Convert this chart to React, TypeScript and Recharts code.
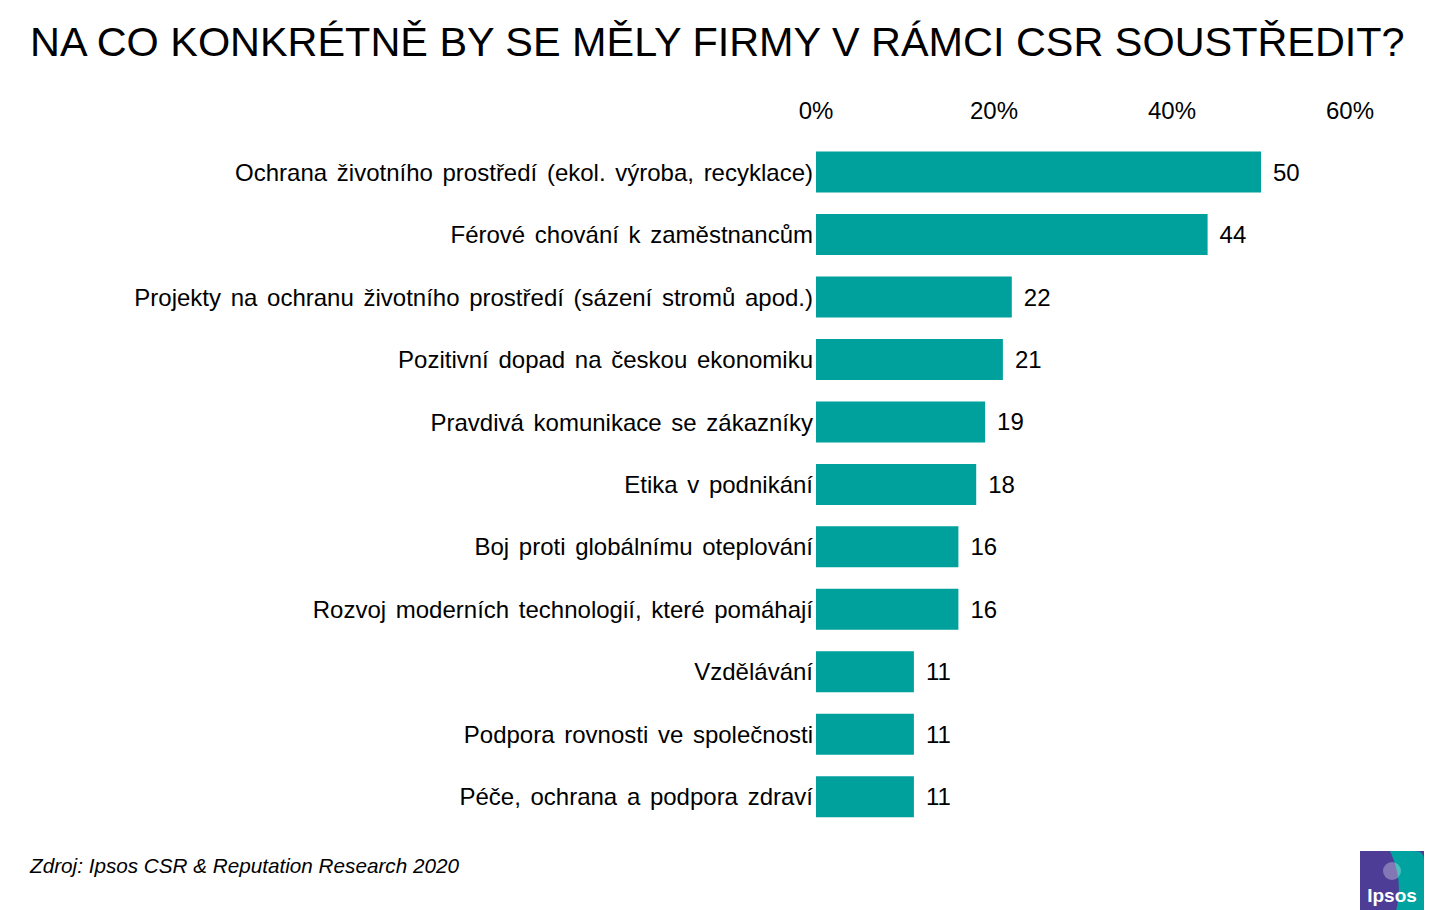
import { BarChart, Bar, XAxis, YAxis, LabelList } from 'recharts';

const categories = [
  'Ochrana životního prostředí (ekol. výroba, recyklace)',
  'Férové chování k zaměstnancům',
  'Projekty na ochranu životního prostředí (sázení stromů apod.)',
  'Pozitivní dopad na českou ekonomiku',
  'Pravdivá komunikace se zákazníky',
  'Etika v podnikání',
  'Boj proti globálnímu oteplování',
  'Rozvoj moderních technologií, které pomáhají',
  'Vzdělávání',
  'Podpora rovnosti ve společnosti',
  'Péče, ochrana a podpora zdraví',
];

const values = [50, 44, 22, 21, 19, 18, 16, 16, 11, 11, 11];

const xTicks = [0, 20, 40, 60];

const font = '"Liberation Sans", Arial, sans-serif';

function IpsosLogo() {
  return (
    <svg width={64} height={60} viewBox="0 0 64 60">
      <rect x={0} y={0} width={64} height={60} fill="#4E3D97" />
      <path d="M30 0 L56 0 Q64 0 64 10 L64 60 L36 60 Q44 30 30 0 Z" fill="#00A3A0" />
      <circle cx={32} cy={20} r={9} fill="#ffffff" opacity={0.3} />
      <text x={32} y={51} textAnchor="middle" fill="#ffffff" fontSize={19} fontWeight="bold" fontFamily={font}>
        Ipsos
      </text>
    </svg>
  );
}

export default function App() {
  // Prepare data for recharts
  const chartData = categories.map((name, i) => ({ name, value: values[i] }));

  return (
    <div style={{ position: 'absolute', left: 0, top: 0, width: 1442, height: 910, background: '#fff', fontFamily: font }}>
      <div style={{ position: 'absolute', left: 30, top: 17, fontSize: 41.4, lineHeight: '50px', color: '#000', whiteSpace: 'nowrap' }}>
        NA CO KONKRÉTNĚ BY SE MĚLY FIRMY V RÁMCI CSR SOUSTŘEDIT?
      </div>

      <div style={{ position: 'absolute', left: 0, top: 0 }}>
        <BarChart
          width={1442}
          height={910}
          data={chartData}
          layout="vertical"
          barCategoryGap="17%"
          margin={{ top: 91, right: 92, bottom: 82, left: 0 }}
        >
          <XAxis
            type="number"
            orientation="top"
            domain={[0, 60]}
            ticks={xTicks}
            tickFormatter={(v: number) => `${v}%`}
            axisLine={false}
            tickLine={false}
            tickSize={0}
            tickMargin={22}
            height={50}
            tick={{ fontSize: 24, fill: '#000', fontFamily: font }}
          />
          <YAxis
            type="category"
            dataKey="name"
            width={816}
            axisLine={false}
            tickLine={false}
            tickSize={0}
            tickMargin={3}
            interval={0}
            tick={{ fontSize: 24, fill: '#000', fontFamily: font, wordSpacing: 3 }}
          />
          <Bar dataKey="value" fill="#00A09D" isAnimationActive={false}>
            <LabelList dataKey="value" position="right" offset={12} fill="#000" fontSize={24} fontFamily={font} />
          </Bar>
        </BarChart>
      </div>

      <div style={{ position: 'absolute', left: 30, top: 854, fontSize: 20.7, fontStyle: 'italic', color: '#000', whiteSpace: 'nowrap' }}>
        Zdroj: Ipsos CSR &amp; Reputation Research 2020
      </div>

      <div style={{ position: 'absolute', left: 1360, top: 851 }}>
        <IpsosLogo />
      </div>
    </div>
  );
}
